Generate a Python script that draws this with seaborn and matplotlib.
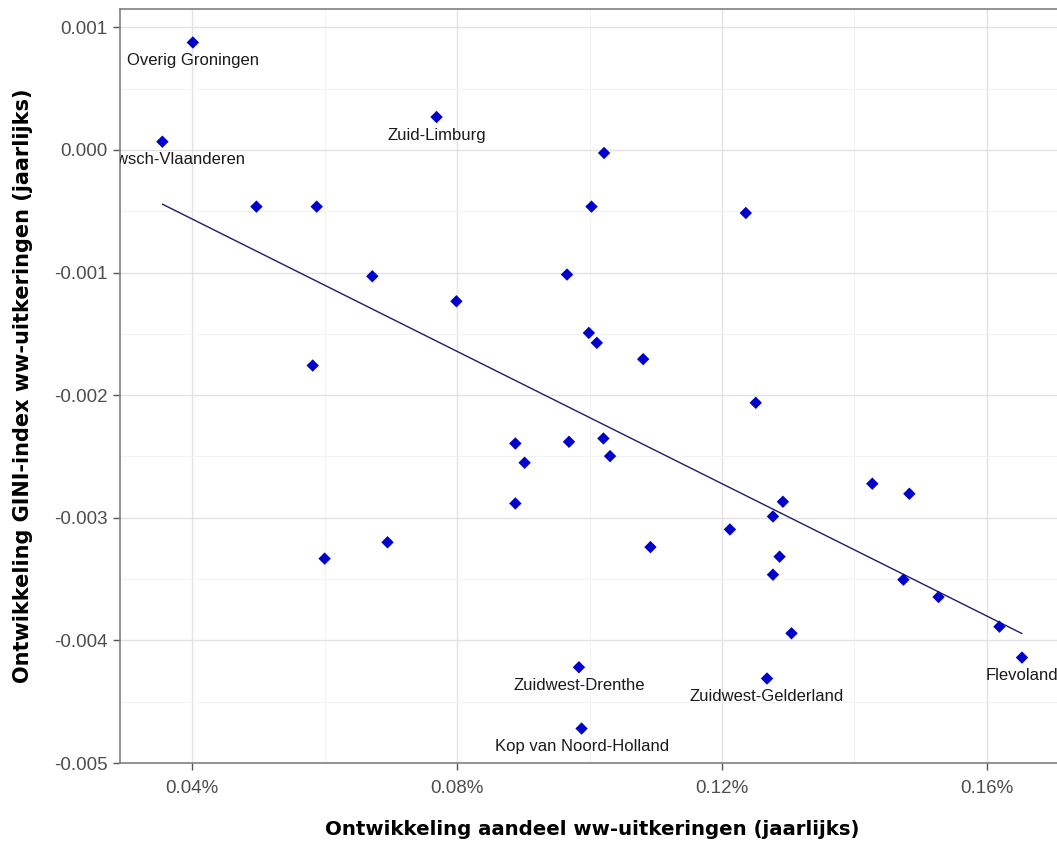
import numpy as np
import pandas as pd
import matplotlib
matplotlib.use("Agg")
import matplotlib.pyplot as plt
from matplotlib.ticker import FuncFormatter, MultipleLocator
import seaborn as sns

sns.set_theme(style="whitegrid")
plt.rcParams['font.family'] = ['Liberation Sans', 'DejaVu Sans']

# ontwikkeling aandeel ww-uitkeringen (in %)
aandeel = [0.0401, 0.0355, 0.0769, 0.1022, 0.0497, 0.0588, 0.1003, 0.1236,
           0.0672, 0.0966, 0.0799, 0.0999, 0.1011, 0.1081, 0.0582, 0.1251,
           0.0888, 0.0969, 0.1021, 0.0902, 0.1031, 0.1427, 0.1483, 0.0888,
           0.1292, 0.1277, 0.1212, 0.1092, 0.1287, 0.1277, 0.1474, 0.1527,
           0.0600, 0.0695, 0.1619, 0.1305, 0.1653, 0.0984, 0.1268, 0.0988]
# ontwikkeling GINI-index
gini = [0.000877, 0.0000676, 0.000269, -0.0000245, -0.000462, -0.000462, -0.000462, -0.000514,
        -0.00103, -0.001016, -0.001234, -0.001492, -0.001573, -0.001706, -0.001758, -0.002062,
        -0.002394, -0.00238, -0.002353, -0.002551, -0.002497, -0.002722, -0.002804, -0.002883,
        -0.002869, -0.002989, -0.003095, -0.003239, -0.003317, -0.003464, -0.003505, -0.003646,
        -0.003333, -0.0032, -0.003888, -0.003942, -0.00414, -0.004219, -0.004311, -0.004719]
regio = ["Overig Groningen", "Zeeuwsch-Vlaanderen", "Zuid-Limburg"] + [""] * 33 + \
        ["Flevoland", "Zuidwest-Drenthe", "Zuidwest-Gelderland", "Kop van Noord-Holland"]

df = pd.DataFrame({'aandeel': aandeel, 'gini': gini, 'regio': regio})

fig = plt.figure(figsize=(10.57, 8.41), dpi=100)
ax = fig.add_axes([120 / 1057, 78 / 841, 945 / 1057, 754 / 841])

sns.regplot(data=df, x='aandeel', y='gini', scatter=False, ci=None, ax=ax,
            line_kws={'color': '#1c1c70', 'lw': 1.0})
sns.scatterplot(data=df, x='aandeel', y='gini', ax=ax, marker='D', s=40,
                color='#0000cd', edgecolor='none', zorder=3)

for _, r in df[df['regio'] != ""].iterrows():
    ax.annotate(r['regio'], (r['aandeel'], r['gini']), xytext=(0, -13),
                textcoords='offset points', ha='center', va='center',
                fontsize=12, color='#1a1a1a', annotation_clip=False, clip_on=True)

ax.set_xlim(0.0291, 0.1718)
ax.set_ylim(-0.005, 0.00115)
ax.xaxis.set_major_locator(MultipleLocator(0.04))
ax.xaxis.set_minor_locator(MultipleLocator(0.02))
ax.yaxis.set_major_locator(MultipleLocator(0.001))
ax.yaxis.set_minor_locator(MultipleLocator(0.0005))
ax.xaxis.set_major_formatter(FuncFormatter(lambda v, p: f"{v:.2f}%"))
ax.yaxis.set_major_formatter(FuncFormatter(lambda v, p: f"{round(v, 4) + 0:.3f}"))

ax.grid(which='major', color='#e3e3e3', lw=1.0)
ax.grid(which='minor', color='#f3f3f3', lw=0.7)
ax.set_axisbelow(True)
for s in ax.spines.values():
    s.set_color('#808080')
    s.set_linewidth(1.2)
ax.tick_params(axis='both', which='major', length=5, width=1, color='#555555',
               labelsize=13.5, labelcolor='#4d4d4d', bottom=True, left=True, pad=4)
ax.tick_params(axis='x', which='major', pad=7.5)
ax.tick_params(which='minor', length=0)

ax.set_xlabel("Ontwikkeling aandeel ww-uitkeringen (jaarlijks)", fontsize=14.2,
              fontweight='bold', color='black', labelpad=16, family='DejaVu Sans')
ax.set_ylabel("Ontwikkeling GINI-index ww-uitkeringen (jaarlijks)", fontsize=15,
              fontweight='bold', color='black', labelpad=15, family='DejaVu Sans')

fig.savefig("out.png", dpi=100)
